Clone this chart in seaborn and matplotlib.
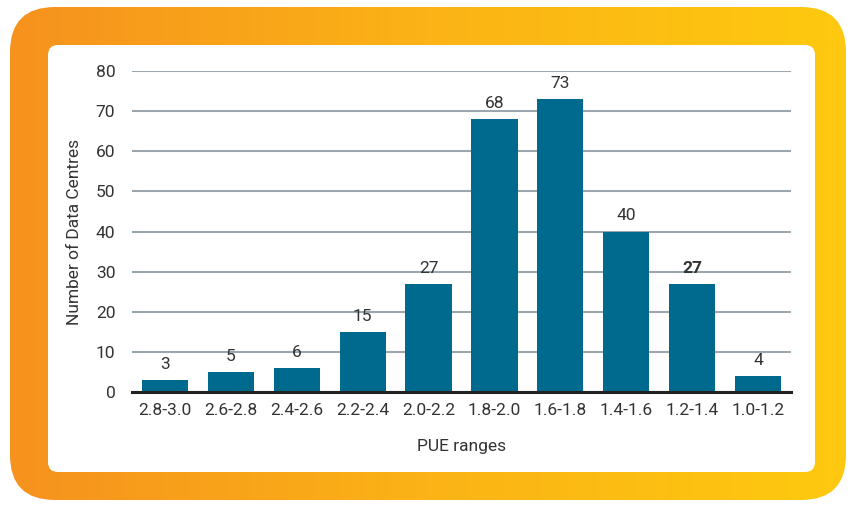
import numpy as np
import pandas as pd
import matplotlib.pyplot as plt
import seaborn as sns
from matplotlib.patches import FancyBboxPatch

# ---------- DATA ----------
pue_ranges = ["2.8-3.0", "2.6-2.8", "2.4-2.6", "2.2-2.4", "2.0-2.2",
              "1.8-2.0", "1.6-1.8", "1.4-1.6", "1.2-1.4", "1.0-1.2"]
data_centres = [3, 5, 6, 15, 27, 68, 73, 40, 27, 4]
y_ticks = [0, 10, 20, 30, 40, 50, 60, 70, 80]

df = pd.DataFrame({"PUE": pue_ranges, "Count": data_centres})

# ---------- STYLE ----------
sns.set_theme(style="white")
plt.rcParams["font.family"] = ["Roboto", "DejaVu Sans"]
TEXT = "#333333"
BAR = "#006a8e"
GRID = "#9ba6ae"
FS = 12.5

W, H = 850, 505
fig = plt.figure(figsize=(W / 100, H / 100), dpi=100)

# background: gradient frame + white card
bg = fig.add_axes([0, 0, 1, 1])
bg.set_xlim(0, W)
bg.set_ylim(H, 0)
bg.axis("off")
grad = np.linspace(0, 1, 256).reshape(1, -1)
cmap = sns.blend_palette(["#f6921e", "#fbb316", "#fec90f"], as_cmap=True)
img = bg.imshow(grad, cmap=cmap, extent=[10, 846, 500, 7], aspect="auto", zorder=0)
frame = FancyBboxPatch((10, 7), 836, 493, boxstyle="round,pad=0,rounding_size=45",
                       transform=bg.transData, facecolor="none", edgecolor="none")
bg.add_patch(frame)
img.set_clip_path(frame)
card = FancyBboxPatch((48, 45), 767, 427, boxstyle="round,pad=0,rounding_size=10",
                      facecolor="white", edgecolor="none", zorder=1)
bg.add_patch(card)

# ---------- CHART ----------
ax = fig.add_axes([132 / W, 1 - 392 / H, (791 - 132) / W, (392 - 71) / H])
ax.set_facecolor("none")
sns.barplot(data=df, x="PUE", y="Count", color=BAR, saturation=1, width=0.7,
            linewidth=0, ax=ax, zorder=3)
ax.set_ylim(0, 80)
ax.set_xlim(-0.5, len(pue_ranges) - 0.5)
ax.set_yticks(y_ticks)
ax.yaxis.grid(True, color=GRID, linewidth=1.5, zorder=0)
ax.set_axisbelow(True)
for s in ["top", "right", "left"]:
    ax.spines[s].set_visible(False)
ax.spines["bottom"].set_color("#222222")
ax.spines["bottom"].set_linewidth(2.2)
ax.spines["bottom"].set_zorder(4)
ax.tick_params(axis="both", length=0, labelsize=FS, colors=TEXT)
ax.tick_params(axis="x", pad=8)
ax.tick_params(axis="y", pad=12)

for i, v in enumerate(data_centres):
    ax.text(i, v + 2.0, str(v), ha="center", va="bottom", fontsize=FS, color=TEXT,
            fontweight="bold" if (pue_ranges[i] == "1.2-1.4") else "normal")

ax.set_xlabel("PUE ranges", fontsize=FS, color=TEXT, labelpad=15)
ax.set_ylabel("Number of Data Centres", fontsize=FS, color=TEXT, labelpad=10)

plt.savefig("out.png", dpi=100)
